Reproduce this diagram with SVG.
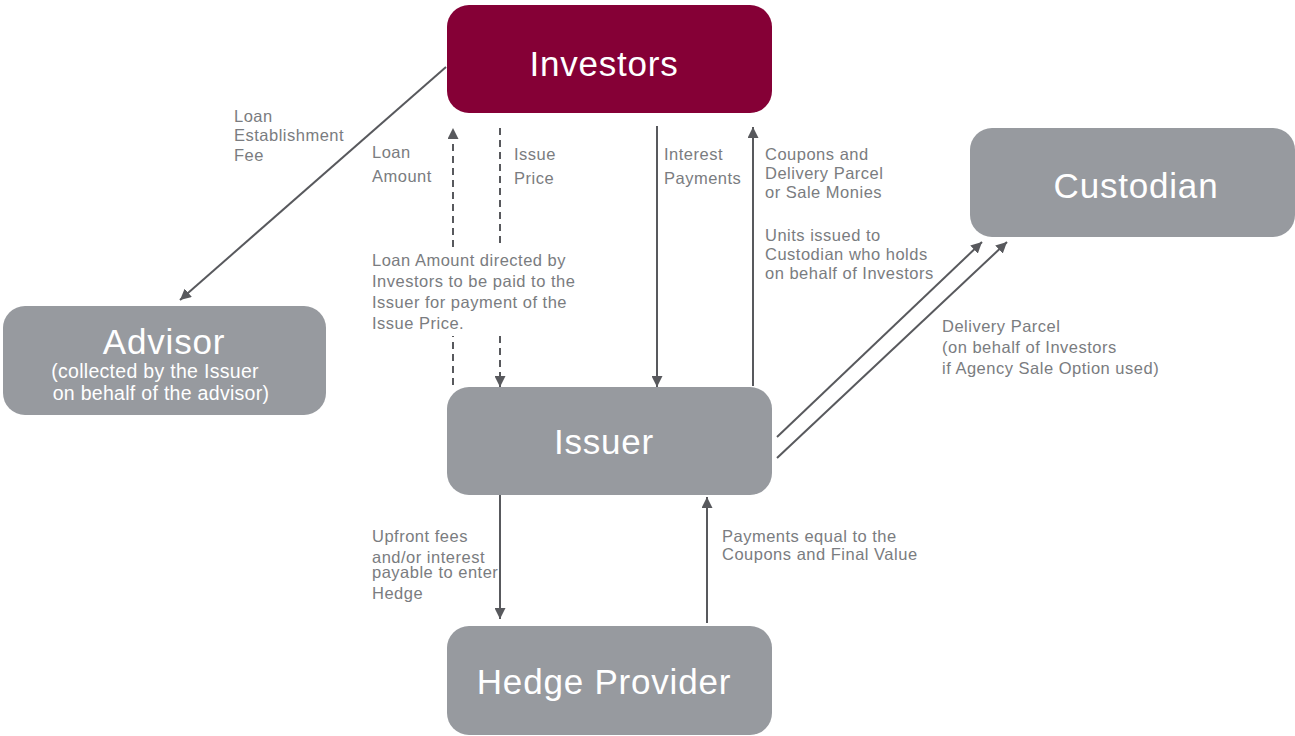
<svg xmlns="http://www.w3.org/2000/svg" width="1295" height="736" viewBox="0 0 1295 736">
<style>
.box{fill:#979a9f}
.inv{fill:#850036}
.title{font-family:"Liberation Sans",Arial,sans-serif;font-size:35px;fill:#ffffff;text-anchor:middle;letter-spacing:0.8px}
.sub{font-family:"Liberation Sans",Arial,sans-serif;font-size:19.5px;fill:#ffffff;text-anchor:middle;letter-spacing:0.3px}
.lbl{font-family:"Liberation Sans",Arial,sans-serif;font-size:16.5px;fill:#7a7c80;letter-spacing:0.5px}
.ln{stroke:#58595d;stroke-width:2;fill:none}
.ds{stroke-dasharray:7,5}
</style>
<defs>
<marker id="ahb" viewBox="0 0 10 10" refX="10" refY="5" markerWidth="11" markerHeight="11" orient="auto" markerUnits="userSpaceOnUse">
<path d="M0,0 L10,5 L0,10 z" fill="#58595d"/>
</marker>
</defs>

<g id="investors">
<rect class="inv" x="447" y="5" width="325" height="108" rx="22"/>
<text class="title" x="604" y="76">Investors</text>
</g>
<g id="custodian">
<rect class="box" x="970" y="128" width="325" height="109" rx="22"/>
<text class="title" x="1136" y="198">Custodian</text>
</g>
<g id="advisor">
<rect class="box" x="3" y="306" width="323" height="109" rx="22"/>
<text class="title" x="164" y="354">Advisor</text>
<text class="sub" x="155" y="378">(collected by the Issuer</text>
<text class="sub" x="161" y="400">on behalf of the advisor)</text>
</g>
<g id="issuer">
<rect class="box" x="447" y="387" width="325" height="108" rx="22"/>
<text class="title" x="604" y="454">Issuer</text>
</g>
<g id="hedge-provider">
<rect class="box" x="447" y="626" width="325" height="109" rx="22"/>
<text class="title" x="604" y="694">Hedge Provider</text>
</g>

<g id="connectors">
<line class="ln" x1="446" y1="67" x2="180" y2="300" marker-end="url(#ahb)"/>
<line class="ln ds" x1="453" y1="247" x2="453" y2="128" marker-end="url(#ahb)"/>
<line class="ln ds" x1="453" y1="385" x2="453" y2="336"/>
<line class="ln ds" x1="500" y1="128" x2="500" y2="247"/>
<line class="ln ds" x1="500" y1="336" x2="500" y2="387" marker-end="url(#ahb)"/>
<line class="ln" x1="657" y1="126" x2="657" y2="387" marker-end="url(#ahb)"/>
<line class="ln" x1="753" y1="386" x2="753" y2="127" marker-end="url(#ahb)"/>
<line class="ln" x1="777" y1="437" x2="982" y2="242" marker-end="url(#ahb)"/>
<line class="ln" x1="777" y1="458" x2="1007" y2="242" marker-end="url(#ahb)"/>
<line class="ln" x1="500" y1="495" x2="500" y2="619" marker-end="url(#ahb)"/>
<line class="ln" x1="707" y1="623" x2="707" y2="497" marker-end="url(#ahb)"/>
</g>

<g id="labels">
<text class="lbl" x="234" y="122">Loan</text>
<text class="lbl" x="234" y="141">Establishment</text>
<text class="lbl" x="234" y="161">Fee</text>
<text class="lbl" x="372" y="158">Loan</text>
<text class="lbl" x="372" y="182">Amount</text>
<text class="lbl" x="514" y="160">Issue</text>
<text class="lbl" x="514" y="184">Price</text>
<text class="lbl" x="664" y="160">Interest</text>
<text class="lbl" x="664" y="184">Payments</text>
<text class="lbl" x="765" y="160">Coupons and</text>
<text class="lbl" x="765" y="179">Delivery Parcel</text>
<text class="lbl" x="765" y="198">or Sale Monies</text>
<text class="lbl" x="765" y="241">Units issued to</text>
<text class="lbl" x="765" y="260">Custodian who holds</text>
<text class="lbl" x="765" y="279">on behalf of Investors</text>
<text class="lbl" x="372" y="266">Loan Amount directed by</text>
<text class="lbl" x="372" y="287">Investors to be paid to the</text>
<text class="lbl" x="372" y="308">Issuer for payment of the</text>
<text class="lbl" x="372" y="329">Issue Price.</text>
<text class="lbl" x="942" y="332">Delivery Parcel</text>
<text class="lbl" x="942" y="353">(on behalf of Investors</text>
<text class="lbl" x="942" y="374">if Agency Sale Option used)</text>
<text class="lbl" x="372" y="542">Upfront fees</text>
<text class="lbl" x="372" y="563">and/or interest</text>
<text class="lbl" x="372" y="578">payable to enter</text>
<text class="lbl" x="372" y="599">Hedge</text>
<text class="lbl" x="722" y="542">Payments equal to the</text>
<text class="lbl" x="722" y="560">Coupons and Final Value</text>
</g>
</svg>
